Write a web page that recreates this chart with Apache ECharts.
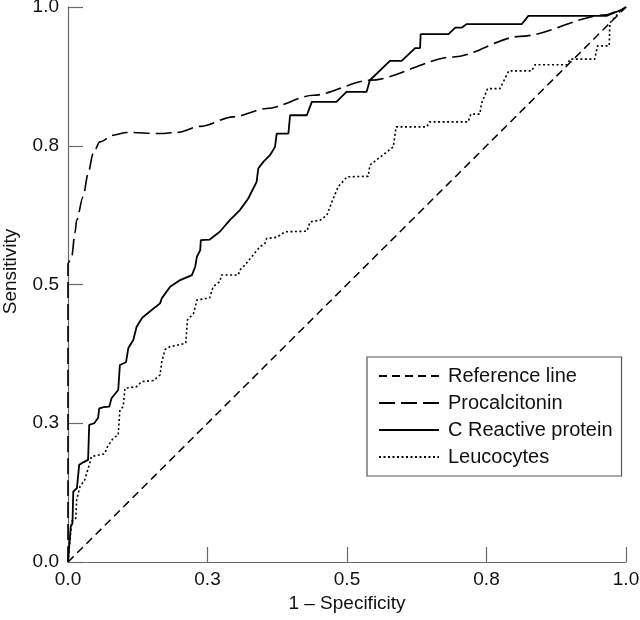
<!DOCTYPE html>
<html>
<head>
<meta charset="utf-8">
<script src="https://cdn.jsdelivr.net/npm/echarts@6/dist/echarts.min.js"></script>
<style>
html,body{margin:0;padding:0;background:#fff;}
#chart{width:640px;height:620px;}
</style>
</head>
<body>
<div id="chart"></div>
<script>
const seriesNames = ['Reference line', 'Procalcitonin', 'C Reactive protein', 'Leucocytes'];
const xTicks = [0, 0.25, 0.5, 0.75, 1.0];

const referenceLine = [[0, 0], [1, 1]];

const procalcitonin = [
  [0, 0], [0, 0.538], [0.0066, 0.55], [0.0125, 0.593], [0.0155, 0.616], [0.027, 0.658],
  [0.036, 0.70], [0.045, 0.736], [0.057, 0.757], [0.081, 0.769], [0.105, 0.774],
  [0.165, 0.772], [0.195, 0.774], [0.237, 0.785], [0.296, 0.802], [0.356, 0.817],
  [0.44, 0.841], [0.541, 0.868], [0.691, 0.91], [0.81, 0.947], [0.965, 0.986],
  [0.992, 0.995], [1, 1]
];

const crp = [
  [0, 0], [0.005, 0.064], [0.008, 0.07], [0.0095, 0.127], [0.016, 0.133], [0.02, 0.175],
  [0.028, 0.18], [0.036, 0.184], [0.038, 0.247], [0.047, 0.25], [0.054, 0.26], [0.056, 0.277],
  [0.064, 0.279], [0.074, 0.28], [0.078, 0.295], [0.09, 0.31], [0.093, 0.355], [0.104, 0.36],
  [0.108, 0.385], [0.117, 0.4], [0.123, 0.424], [0.133, 0.44], [0.150, 0.454],
  [0.165, 0.466], [0.168, 0.475], [0.183, 0.496], [0.201, 0.508], [0.222, 0.517],
  [0.228, 0.532], [0.231, 0.55], [0.237, 0.562], [0.238, 0.58], [0.254, 0.581],
  [0.272, 0.595], [0.29, 0.616], [0.308, 0.634], [0.323, 0.655], [0.338, 0.685],
  [0.341, 0.709], [0.35, 0.721], [0.362, 0.733], [0.371, 0.748], [0.374, 0.772],
  [0.395, 0.772], [0.398, 0.805], [0.428, 0.805], [0.437, 0.829], [0.481, 0.829],
  [0.499, 0.847], [0.535, 0.847], [0.541, 0.868], [0.577, 0.903], [0.598, 0.903],
  [0.622, 0.926], [0.631, 0.926], [0.632, 0.951], [0.682, 0.951], [0.694, 0.963],
  [0.706, 0.963], [0.714, 0.969], [0.813, 0.969], [0.825, 0.984], [0.965, 0.984],
  [0.992, 0.995], [1, 1]
];

const leucocytes = [
  [0, 0], [0.0066, 0.073], [0.014, 0.079], [0.0155, 0.112], [0.0215, 0.136], [0.03, 0.148],
  [0.039, 0.178], [0.042, 0.19], [0.066, 0.195], [0.069, 0.205], [0.081, 0.223],
  [0.09, 0.229], [0.093, 0.274], [0.099, 0.28], [0.102, 0.313], [0.123, 0.316],
  [0.132, 0.325], [0.153, 0.327], [0.165, 0.337], [0.168, 0.361], [0.174, 0.383],
  [0.183, 0.388], [0.211, 0.394], [0.214, 0.436], [0.225, 0.448], [0.231, 0.472],
  [0.254, 0.476], [0.26, 0.496], [0.272, 0.505], [0.275, 0.517], [0.305, 0.517],
  [0.308, 0.526], [0.317, 0.535], [0.344, 0.568], [0.353, 0.574], [0.356, 0.583],
  [0.374, 0.585], [0.389, 0.595], [0.428, 0.596], [0.434, 0.613], [0.452, 0.616],
  [0.464, 0.625], [0.473, 0.649], [0.484, 0.676], [0.5, 0.694], [0.538, 0.695],
  [0.541, 0.715], [0.583, 0.748], [0.588, 0.784], [0.643, 0.784], [0.648, 0.793],
  [0.717, 0.793], [0.722, 0.807], [0.738, 0.807], [0.741, 0.826], [0.752, 0.853],
  [0.774, 0.853], [0.79, 0.885], [0.831, 0.885], [0.837, 0.896], [0.894, 0.896],
  [0.9, 0.906], [0.944, 0.906], [0.949, 0.93], [0.97, 0.93], [0.971, 0.971],
  [0.992, 0.995], [1, 1]
];

const FONT = '"Liberation Sans", Arial, sans-serif';
const AXIS_COLOR = '#6a6a6a';

const chart = echarts.init(document.getElementById('chart'), null, {renderer: 'canvas'});

function axisCommon() {
  return {
    type: 'value',
    min: 0,
    max: 1,
    interval: 0.25,
    axisLine: {show: true, lineStyle: {color: AXIS_COLOR, width: 1.2}},
    axisTick: {show: true, inside: true, length: 15, lineStyle: {color: AXIS_COLOR, width: 1.2}},
    splitLine: {show: false},
    axisLabel: {
      color: '#111',
      fontFamily: FONT,
      fontSize: 19,
      hideOverlap: false,
      formatter: v => v.toFixed(1)
    },
    nameTextStyle: {color: '#111', fontFamily: FONT, fontSize: 19},
    nameLocation: 'middle'
  };
}

const xAxis = axisCommon();
xAxis.name = '1 \u2013 Specificity';
xAxis.nameGap = 31;
xAxis.axisLabel.margin = 8;

const yAxis = axisCommon();
yAxis.name = 'Sensitivity';
yAxis.nameGap = 48;
yAxis.axisLabel.margin = 9;
yAxis.nameTextStyle = {color: '#111', fontFamily: FONT, fontSize: 19, padding: [0, 0, 0, 26]};

function lineSeries(name, data, lineStyle, extra) {
  return Object.assign({
    name: name,
    type: 'line',
    data: data,
    symbol: 'none',
    showSymbol: false,
    animation: false,
    lineStyle: Object.assign({color: '#000', width: 1.6}, lineStyle)
  }, extra || {});
}

const option = {
  animation: false,
  backgroundColor: '#fff',
  grid: {left: 68, right: 14, top: 7, bottom: 58, containLabel: false, outerBoundsMode: 'none'},
  xAxis: xAxis,
  yAxis: yAxis,
  legend: {
    left: 367,
    top: 357,
    orient: 'vertical',
    data: seriesNames,
    itemWidth: 60,
    itemHeight: 14,
    itemGap: 7,
    padding: [9, 9, 9, 11],
    borderColor: '#555',
    borderWidth: 1.2,
    backgroundColor: '#fff',
    itemStyle: {opacity: 0},
    textStyle: {color: '#111', fontFamily: FONT, fontSize: 20, lineHeight: 20, padding: [0, 0, 0, 4]},
    selectedMode: false
  },
  series: [
    lineSeries(seriesNames[0], referenceLine, {type: [8, 5], width: 1.5}),
    lineSeries(seriesNames[1], procalcitonin, {type: [16, 6], width: 1.6}, {smooth: 0.3, smoothMonotone: 'x'}),
    lineSeries(seriesNames[2], crp, {type: 'solid', width: 1.8}),
    lineSeries(seriesNames[3], leucocytes, {type: [2, 2.5], width: 1.6})
  ]
};

chart.setOption(option);
</script>
</body>
</html>
